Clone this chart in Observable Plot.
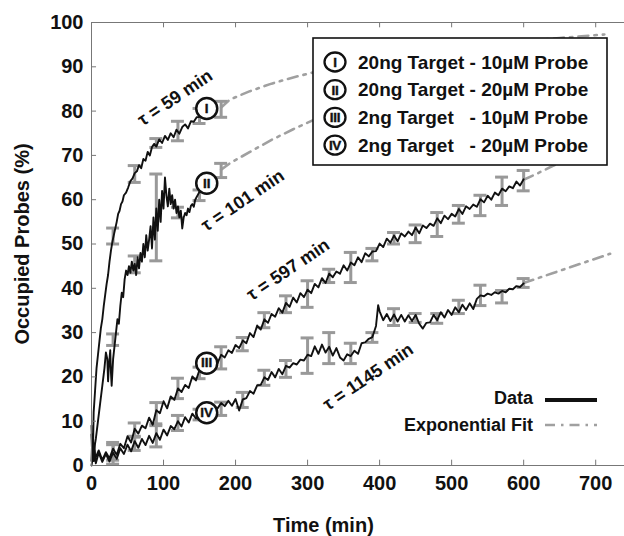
<!DOCTYPE html>
<html>
<head>
<meta charset="utf-8">
<script src="https://cdn.jsdelivr.net/npm/d3@7"></script>
<script src="https://cdn.jsdelivr.net/npm/@observablehq/plot@0.6"></script>
<style>
  html, body { margin: 0; padding: 0; background: white; }
  svg { font-family: "Liberation Sans", Arial, Helvetica, sans-serif; }
</style>
</head>
<body>
<script>
// ---------- Data ----------
const xTicks = [0, 100, 200, 300, 400, 500, 600, 700];
const yTicks = [0, 10, 20, 30, 40, 50, 60, 70, 80, 90, 100];

// measured curves [time (min), occupied probes (%)]
const curveI = [[0,1],[1,6],[2,3],[3,12],[5,17],[7,22],[9,25],[11,28],[13,31],[15,33],[17,36],[19,38.5],[21,41],[23,43],[25,46],[27,48.5],[29,50.5],[31,52],[33,53.5],[35,55],[37,56.8],[39,57.5],[41,59],[43,59.6],[45,61],[48,61.6],[51,62.8],[54,64.2],[57,64.8],[60,66],[63,66.4],[66,67.8],[69,67.1],[72,69.2],[75,68.8],[78,70.8],[81,70],[84,71.9],[87,72.6],[90,72],[94,73.6],[98,72.8],[102,74.4],[106,73.5],[110,75],[114,74.1],[118,75.8],[122,74.9],[126,76.4],[130,77],[134,76.1],[138,77.7],[142,77.6],[146,78.6],[150,78.7],[155,79.6]];
const curveII = [[0,0],[3,3],[6,6],[9,10],[12,14],[15,18],[18,22],[20,25.5],[22,24],[23,19],[24,22],[26,26],[27,21],[28,18],[30,24],[32,27],[34,30],[36,33],[38,32],[40,36],[42,39],[44,38],[46,42],[48,44],[50,43],[52,45],[54,43.5],[56,46],[58,44],[60,45.5],[62,43],[64,47],[66,44.5],[68,48],[70,46],[72,50],[74,47],[76,52],[78,48.5],[80,51],[82,54],[84,49],[86,56],[88,51],[90,58],[92,53],[94,60],[96,55],[98,62],[100,58],[102,65],[104,61],[106,58.5],[108,62.5],[110,59],[112,61],[114,58],[116,60],[118,57],[120,58.5],[122,56],[124,57.5],[126,53.5],[128,56],[130,57],[132,56.5],[134,58],[136,57.2],[138,58.6],[140,59],[142,58.4],[144,60],[146,60.6],[148,61.2],[150,61.8],[152,62.4],[155,63]];
const curveIII = [[0,9],[1,3.5],[2,7],[3,2],[4,5],[5,1.5],[10,3.4],[15,1.2],[20,3],[25,1.6],[30,3.8],[35,2.4],[40,4.9],[45,3.9],[50,6.6],[55,5.2],[60,8.3],[65,7.2],[70,9],[75,8.4],[80,10.8],[85,9.2],[90,12.5],[95,11.8],[100,14.5],[105,12.9],[110,15.6],[115,14.8],[120,17.4],[125,16.6],[130,18.2],[135,17.5],[140,20.1],[145,19.2],[150,21.6],[155,20.9],[160,23],[165,21.8],[170,24.2],[175,23.1],[180,25],[185,24.4],[190,26],[195,25.4],[200,27.2],[205,26.5],[210,28.2],[215,27.6],[220,29.9],[225,29],[230,31.6],[235,30.7],[240,33],[245,32.2],[250,34.2],[255,33.6],[260,35.5],[265,34.5],[270,36.7],[275,35.8],[280,37.9],[285,36.8],[290,38.9],[295,38],[300,39.7],[305,38.9],[310,41],[315,40.2],[320,42.3],[325,41.2],[330,43.3],[335,42.5],[340,43.8],[345,43.3],[350,45.2],[355,44],[360,45.8],[365,45.2],[370,47],[375,45.9],[380,47.9],[385,47.2],[390,48.3],[395,48.4],[400,50.1],[405,49.3],[410,51.2],[415,50.3],[420,51.9],[425,50.6],[430,52.4],[435,51.7],[440,52.8],[445,52],[450,53.7],[455,52.4],[460,54.2],[465,53.6],[470,54.6],[475,54.1],[480,55.8],[485,54.7],[490,56.4],[495,55.6],[500,56.8],[505,56.2],[510,57.9],[515,56.8],[520,58.5],[525,57.9],[530,58.9],[535,58.4],[540,60.1],[545,59.4],[550,60.9],[555,60],[560,61.6],[565,61],[570,62.5],[575,61.9],[580,63],[585,62.6],[590,64.1],[595,63.2],[600,64.6]];
const curveIV = [[0,7],[1,2],[2,5],[3,1],[4,3.5],[6,0.5],[10,2.9],[15,0.8],[20,2.6],[25,0.9],[30,2.9],[35,1.5],[40,3.9],[45,2.6],[50,4.7],[55,3.2],[60,5.5],[65,4],[70,6],[75,4.6],[80,6.7],[85,5.1],[90,7.3],[95,5.8],[100,8.1],[105,6.8],[110,8.9],[115,8.2],[120,10],[125,8.8],[130,10.9],[135,9.7],[140,11.7],[145,10.6],[150,12.3],[155,11.8],[160,12.8],[165,12.3],[170,13.3],[175,12.9],[180,14.1],[185,13.4],[190,14.6],[195,13.5],[200,15],[205,12.4],[210,14.9],[215,15.2],[220,16.8],[225,16.2],[230,18.1],[235,18.2],[240,19.9],[245,19.3],[250,21.1],[255,19.9],[260,21.8],[265,20.6],[270,22.5],[275,22.1],[280,23.1],[285,22.8],[290,23.9],[295,23.7],[300,25],[305,24.7],[310,26.9],[315,25.2],[320,27.3],[325,25.5],[330,26.8],[335,24.8],[340,26.5],[345,24.4],[350,23.7],[355,25.1],[360,24.7],[365,25.9],[370,25.2],[375,27.6],[380,27.8],[385,28.6],[390,29],[395,31.5],[398,36.2],[400,34.8],[405,32.8],[410,34.2],[415,32.6],[420,34.1],[425,32.5],[430,34],[435,32.5],[440,33.9],[445,32.6],[450,34],[455,32],[460,30.9],[465,32.2],[470,32.3],[475,34],[480,32.8],[485,34.6],[490,33.4],[495,35.1],[500,34],[505,35.7],[510,34.6],[515,36.3],[520,35.1],[525,36.6],[530,35.3],[535,37.6],[540,38.4],[545,38.2],[550,38.8],[555,38.5],[560,39.1],[565,38.8],[570,39.4],[575,39.1],[580,39.9],[585,39.8],[590,40.5],[595,40.3],[600,41.1]];

// error bars: times, means, half-widths
const barTimesShort = [30, 60, 90, 120, 150, 180];
const barMeanI  = [51.8, 65.8, 72.8, 75.5, 78.9, 80.4];
const barErrI   = [1.8, 1.9, 1.0, 2.2, 1.7, 1.8];
const barMeanII = [28.4, 45.4, 56, 57.1, 61, 66.6];
const barErrII  = [1.3, 1.9, 9.8, 1.2, 1.2, 1.6];
const barTimesLong = [30, 60, 90, 120, 150, 180, 210, 240, 270, 300, 330, 360, 390, 420, 450, 480, 510, 540, 570, 600];
const barMeanIII = [3.2, 8, 11.6, 17.4, 20.9, 24.3, 27.4, 32.8, 36.4, 38.7, 42.8, 44.7, 47.6, 51.3, 52.3, 54.4, 56.7, 58.7, 61.9, 64.3];
const barErrIII  = [2, 1.6, 2.6, 2.3, 1.3, 2.5, 1.5, 1.7, 1.9, 3, 1.5, 3.4, 1.4, 1.3, 2, 2.7, 2, 2.3, 3.2, 2.3];
const barMeanIV  = [2.5, 5, 6.8, 9.6, 11.5, 12.8, 14.8, 19.8, 21.8, 24.8, 26.5, 25.3, 28.9, 33.5, 33.3, 33.2, 35.8, 38.4, 38.1, 41.2];
const barErrIV   = [2.2, 1.6, 2.6, 1.7, 1.2, 1.5, 1.7, 1.7, 1.9, 4, 3.5, 2.3, 1.1, 1.9, 1, 1.1, 1.5, 2.3, 1.4, 1];

// exponential fits
const fitI   = [[180,80.8],[192,82.6],[220,84.5],[250,86.2],[280,87.6],[307,88.7],[350,90.3],[400,91.8],[450,93],[500,94.1],[550,95],[600,95.8],[650,96.5],[712,97.3]];
const fitII  = [[180,66.8],[192,68.2],[220,70.8],[250,73.5],[280,75.9],[307,77.9],[350,80.6],[400,83.2],[450,85.3],[500,87],[550,88.4],[600,89.5],[650,90.4],[705,91.1]];
const fitIII = [[600,64.5],[620,66],[640,67.6],[680,70.3],[712,72.3]];
const fitIV  = [[600,41.2],[640,43.4],[680,45.6],[720,47.8]];

// labels
const seriesNumerals = ["I", "II", "III", "IV"];
const seriesLabelT = [160, 160, 160, 160];
const seriesLabelV = [80.6, 63.7, 23.1, 11.9];
const tauTexts = ["τ = 59 min", "τ = 101 min", "τ = 597 min", "τ = 1145 min"];
const tauT = [116, 210, 273, 384];
const tauV = [83, 59.8, 44.2, 20];
const legendTexts = ["20ng Target - 10µM Probe", "20ng Target - 20µM Probe", "2ng Target   - 10µM Probe", "2ng Target   - 20µM Probe"];

// ---------- Tables ----------
const toPts = (arr) => arr.map(([t, v]) => ({t, v}));
const bars = [
  ...barTimesShort.map((t, i) => ({t, m: barMeanI[i], e: barErrI[i]})),
  ...barTimesShort.map((t, i) => ({t, m: barMeanII[i], e: barErrII[i]})),
  ...barTimesLong.map((t, i) => ({t, m: barMeanIII[i], e: barErrIII[i]})),
  ...barTimesLong.map((t, i) => ({t, m: barMeanIV[i], e: barErrIV[i]}))
];
const circleLabels = seriesNumerals.map((n, i) => ({n, t: seriesLabelT[i], v: seriesLabelV[i]}));
const tauLabels = tauTexts.map((s, i) => ({s, t: tauT[i], v: tauV[i]}));

const gray = "#999999";
const axisGray = "#777";
const fitStyle = {x: "t", y: "v", stroke: "#a0a0a0", strokeWidth: 2.6, strokeDasharray: "10,6,2.5,6"};
const lineStyle = {x: "t", y: "v", stroke: "#111", strokeWidth: 1.9, strokeLinejoin: "round"};

const chart = Plot.plot({
  width: 624,
  height: 536,
  marginLeft: 91,
  marginRight: 0,
  marginTop: 22,
  marginBottom: 71,
  x: {domain: [0, 740], axis: null},
  y: {domain: [0, 100], axis: null},
  marks: [
    // fits
    Plot.line(toPts(fitI), fitStyle),
    Plot.line(toPts(fitII), fitStyle),
    Plot.line(toPts(fitIII), fitStyle),
    Plot.line(toPts(fitIV), fitStyle),
    // error bars
    Plot.ruleX(bars, {x: "t", y1: d => d.m - d.e, y2: d => d.m + d.e, stroke: gray, strokeWidth: 3}),
    Plot.ruleY(bars, {y: d => d.m + d.e, x1: d => d.t - 9, x2: d => d.t + 9, stroke: gray, strokeWidth: 3}),
    Plot.ruleY(bars, {y: d => d.m - d.e, x1: d => d.t - 9, x2: d => d.t + 9, stroke: gray, strokeWidth: 3}),
    // data
    Plot.line(toPts(curveI), lineStyle),
    Plot.line(toPts(curveII), lineStyle),
    Plot.line(toPts(curveIII), lineStyle),
    Plot.line(toPts(curveIV), lineStyle),
    // axes
    Plot.ruleY([0], {stroke: axisGray, strokeWidth: 1}),
    Plot.ruleY([100], {stroke: axisGray, strokeWidth: 1}),
    Plot.ruleX([0], {stroke: axisGray, strokeWidth: 1}),
    Plot.ruleX(xTicks, {x: d => d, y1: 0, y2: 1.2, stroke: axisGray}),
    Plot.ruleX(xTicks, {x: d => d, y1: 100, y2: 98.8, stroke: axisGray}),
    Plot.ruleY(yTicks, {y: d => d, x1: 0, x2: 7, stroke: axisGray}),
    Plot.text(xTicks, {x: d => d, text: d => String(d), frameAnchor: "bottom", lineAnchor: "middle", dy: 18, fontSize: 20, fontWeight: "bold", fill: "#111"}),
    Plot.text(yTicks, {y: d => d, text: d => String(d), frameAnchor: "left", dx: -8, textAnchor: "end", fontSize: 20, fontWeight: "bold", fill: "#111"}),
    Plot.text(["Time (min)"], {frameAnchor: "bottom", x: 322, lineAnchor: "middle", dy: 60, fontSize: 20, fontWeight: "bold", fill: "#111"}),
    Plot.text(["Occupied Probes (%)"], {frameAnchor: "left", textAnchor: "middle", lineAnchor: "middle", dx: -69, rotate: -90, fontSize: 20, fontWeight: "bold", fill: "#111"}),
    // tau annotations
    Plot.text(tauLabels, {x: "t", y: "v", text: "s", rotate: -34, fontSize: 18, fontWeight: "bold", fill: "#111"}),
    // numbered circles
    Plot.dot(circleLabels, {x: "t", y: "v", r: 10.5, fill: "white", stroke: "#111", strokeWidth: 2.5}),
    Plot.text(circleLabels, {x: "t", y: "v", text: "n", fontSize: 13.5, fontWeight: "bold", fill: "#111", stroke: "#111", strokeWidth: 0.4, letterSpacing: "-0.3px"})
  ]
});
document.body.appendChild(chart);

// ---------- Legends ----------
const svg = d3.select(chart);
const lg = svg.append("g").attr("text-anchor", "start");
lg.append("rect").attr("x", 313).attr("y", 38).attr("width", 294).attr("height", 127)
  .attr("fill", "white").attr("stroke", "#111").attr("stroke-width", 1.6);
legendTexts.forEach((s, i) => {
  const cy = 62 + i * 27.7;
  lg.append("ellipse").attr("cx", 335).attr("cy", cy).attr("rx", 10.5).attr("ry", 9.5)
    .attr("fill", "white").attr("stroke", "#111").attr("stroke-width", 2.3);
  lg.append("text").attr("x", 335).attr("y", cy + 4.8).attr("text-anchor", "middle")
    .attr("font-weight", "bold").attr("font-size", 13.5).attr("stroke", "#111").attr("stroke-width", 0.4)
    .attr("letter-spacing", "-0.3px").attr("fill", "#111").text(seriesNumerals[i]);
  lg.append("text").attr("x", 358).attr("y", cy + 6.5).attr("text-anchor", "start")
    .attr("font-weight", "bold").attr("font-size", 19).attr("fill", "#111")
    .attr("xml:space", "preserve").style("white-space", "pre").text(s);
});
const ml = svg.append("g");
ml.append("text").attr("x", 533).attr("y", 404).attr("text-anchor", "end")
  .attr("font-weight", "bold").attr("font-size", 18).attr("fill", "#111").text("Data");
ml.append("line").attr("x1", 545).attr("x2", 597).attr("y1", 400).attr("y2", 400)
  .attr("stroke", "#111").attr("stroke-width", 4);
ml.append("text").attr("x", 533).attr("y", 431).attr("text-anchor", "end")
  .attr("font-weight", "bold").attr("font-size", 18).attr("fill", "#111").text("Exponential Fit");
ml.append("line").attr("x1", 545).attr("x2", 597).attr("y1", 425).attr("y2", 425)
  .attr("stroke", "#a0a0a0").attr("stroke-width", 2.6).attr("stroke-dasharray", "10,6,2.5,6");
</script>
</body>
</html>
